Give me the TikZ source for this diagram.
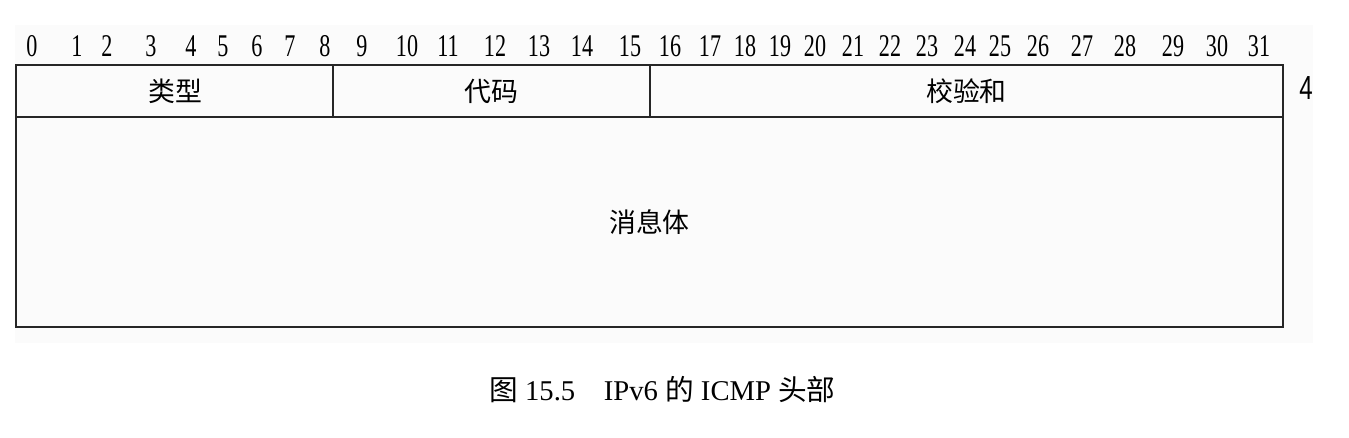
\documentclass[tikz,border=0pt]{standalone}
\usepackage{fontspec}
\newfontfamily\cjk{Noto Sans CJK SC}
\newfontfamily\numfont[FakeStretch=0.7]{Liberation Serif}
\newfontfamily\capfont{Liberation Serif}
\newfontfamily\sidefont[FakeStretch=0.72]{Liberation Sans}
\usetikzlibrary{positioning}

\tikzset{
  bitnum/.style={anchor=base,inner sep=0pt,font=\numfont\fontsize{18}{18}\selectfont},
  field/.style={inner sep=0pt,font=\cjk\fontsize{15.3}{16}\selectfont},
  frame/.style={line width=1.1pt,draw=black!85}
}

\begin{document}
\begin{tikzpicture}[x=0.02cm,y=-0.02cm]
      \useasboundingbox (0,0) rectangle (1349,437);
      \fill[black!1.5] (15,25) rectangle (1313,343);
      %% bit numbers
      \foreach \n/\xpos in {0/32,1/77,2/107,3/151,4/191,5/223,6/257,7/290,
          8/325,9/362,10/407,11/448,12/495,13/539,14/582,15/630,16/670,
          17/710,18/745,19/780,20/815,21/853,22/890,23/927,24/965,
          25/1000,26/1038,27/1082,28/1125,29/1173,30/1217,31/1259}
        \node[bitnum] (b\n) at (\xpos,56) {\n};
      %% frame
      \coordinate (TL) at (16,65);
      \coordinate (TR) at (1283,65);
      \coordinate (ML) at (16,117);
      \coordinate (MR) at (1283,117);
      \coordinate (BL) at (16,327);
      \coordinate (BR) at (1283,327);
      \coordinate (D1t) at (333,65);
      \coordinate (D1b) at (333,117);
      \coordinate (D2t) at (650,65);
      \coordinate (D2b) at (650,117);
      \draw[frame] (TL) rectangle (BR);
      \draw[frame] (ML) -- (MR);
      \draw[frame] (D1t) -- (D1b);
      \draw[frame] (D2t) -- (D2b);
      %% fields
      \node[field] (type) at (175,91) {类型};
      \node[field] (code) at (491.5,91) {代码};
      \node[field] (csum) at (966.5,91) {校验和};
      \node[field] (body) at (649.5,222) {消息体};
      \node[inner sep=0pt,font=\sidefont\fontsize{19}{19}\selectfont]
           (len) at (1306,88) {4};
      %% caption
      \node[anchor=west,inner sep=0pt,font=\capfont\fontsize{16.3}{17}\selectfont]
           (cap) at (489,390) {{\cjk 图}\ 15.5\quad IPv6 {\cjk 的}\ ICMP {\cjk 头部}};
    \end{tikzpicture}
\end{document}
